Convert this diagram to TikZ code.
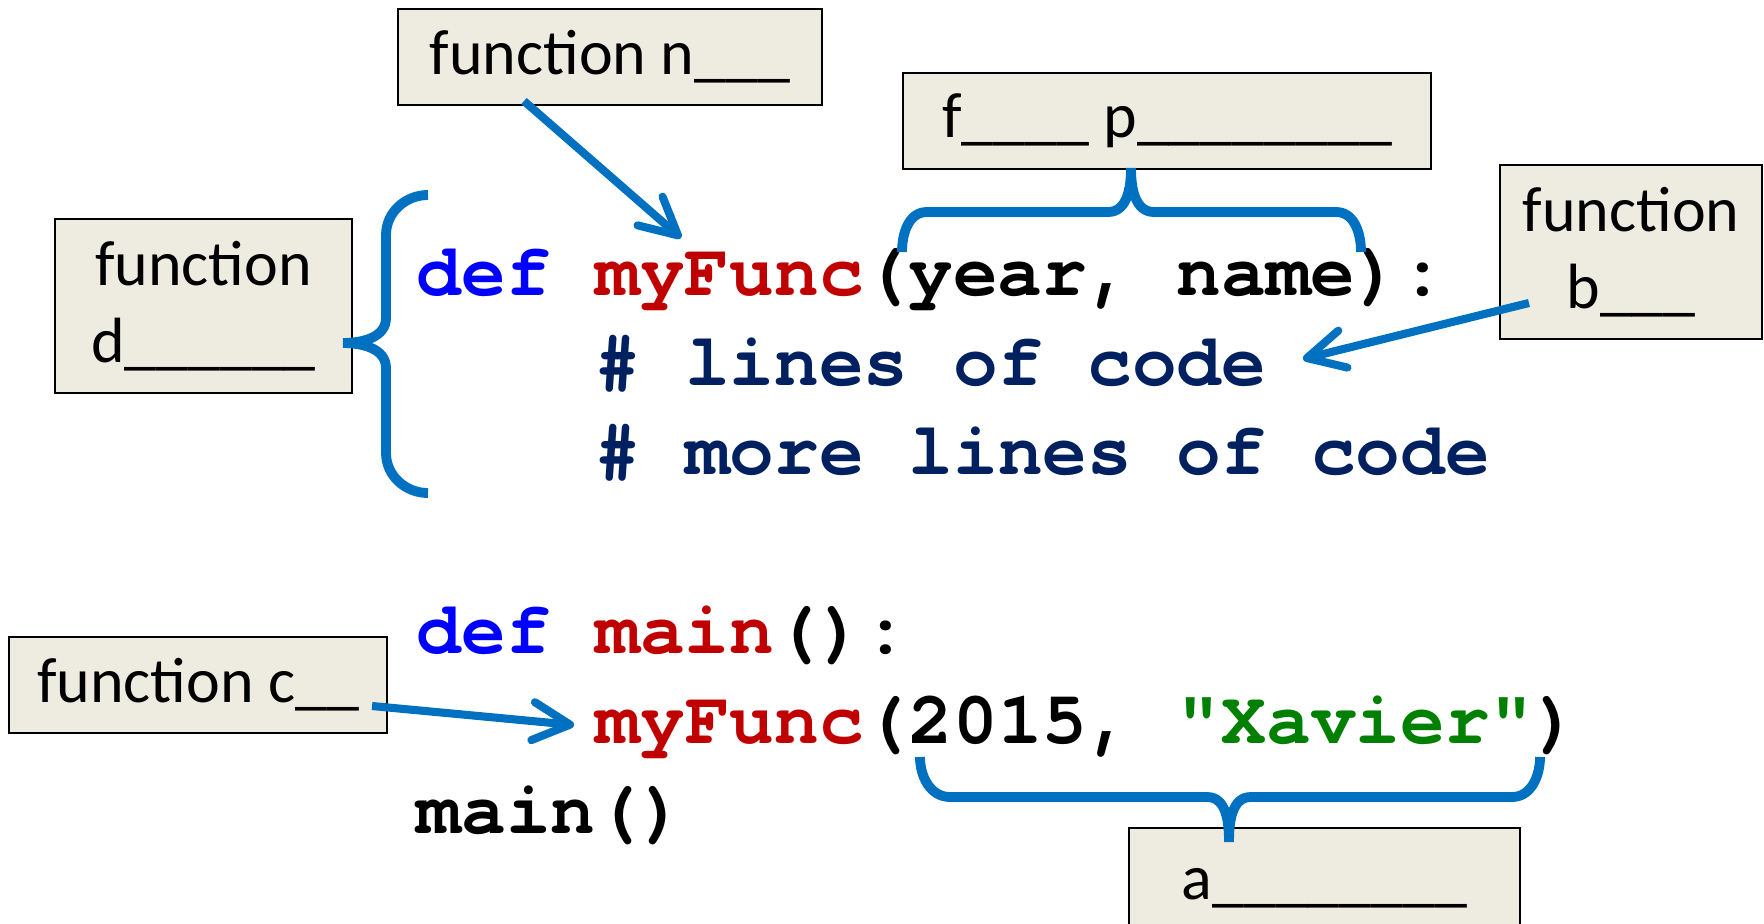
\documentclass[tikz,border=0pt]{standalone}
\usepackage{fontspec}
\setmainfont{Carlito}
\newfontfamily\codefont{TeX Gyre Cursor}
\usepackage{tikz}
\usetikzlibrary{arrows.meta, positioning}
\usepackage{xcolor}
\definecolor{calloutblue}{RGB}{0,112,192}
\definecolor{boxfill}{RGB}{238,236,225}
\definecolor{kwblue}{RGB}{0,0,255}
\definecolor{fnred}{RGB}{192,0,0}
\definecolor{cmtnavy}{RGB}{0,32,96}
\definecolor{strgreen}{RGB}{0,128,0}
\tikzset{%
	blank/.style={
		draw=black,
		fill=boxfill,
		line width=0.6pt,
		inner sep=0pt,
		align=center,
		font=\fontsize{18.2}{22}\selectfont
	},
	code/.style={
		anchor=base west,
		inner sep=0pt,
		font=\codefont\bfseries\fontsize{21.2}{25}\selectfont
	},
	pointer/.style={
		draw=calloutblue,
		line width=2.3pt,
		-{Straight Barb[length=3.7mm,width=3.8mm,round]}
	},
	bracket/.style={
		draw=calloutblue,
		line width=2.8pt
	},
}

\begin{document}
\begin{tikzpicture}
			\useasboundingbox (0,0) rectangle (17.64,9.23);
			\clip (0,0) rectangle (17.64,9.23);
			% Draw the code lines
			\node[code] (def1) at (4.16,6.28) {\textcolor{kwblue}{def} \textcolor{fnred}{myFunc}(year, name):};
			\node[code] (cmt1) at (5.95,5.38) {\textcolor{cmtnavy}{\# lines of code}};
			\node[code] (cmt2) at (5.95,4.49) {\textcolor{cmtnavy}{\# more lines of code}};
			\node[code] (def2) at (4.16,2.70) {\textcolor{kwblue}{def} \textcolor{fnred}{main}():};
			\node[code] (call) at (5.95,1.80) {\textcolor{fnred}{myFunc}(2015, \textcolor{strgreen}{"Xavier"})};
			\node[code] (run) at (4.16,0.90) {main()};
			
			% Draw the blanks
			\node[blank, minimum width=4.24cm, minimum height=0.96cm] (boxn) at (6.10,8.66) {function n\_\_\_};
			\node[blank, minimum width=5.28cm, minimum height=0.96cm] (boxp) at (11.67,8.02) {f\_\_\_\_ p\_\_\_\_\_\_\_\_};
			\node[blank, minimum width=2.62cm, minimum height=1.74cm] (boxb) at (16.31,6.71) {function\\b\_\_\_};
			\node[blank, minimum width=2.97cm, minimum height=1.74cm] (boxd) at (2.035,6.17) {function\\d\_\_\_\_\_\_};
			\node[blank, minimum width=3.78cm, minimum height=0.96cm] (boxc) at (1.98,2.38) {function c\_\_};
			\node[blank, minimum width=3.91cm, minimum height=1.20cm] (boxa) at (13.245,0.35) {a\_\_\_\_\_\_\_\_};
			
			% Draw the braces
			\draw[bracket] (4.28,7.28) to[out=180,in=90] (3.86,6.88) -- (3.86,6.05)
				to[out=-90,in=0] (3.43,5.80) to[out=0,in=90] (3.86,5.55) -- (3.86,4.70)
				to[out=-90,in=180] (4.28,4.30);
			\draw[bracket] (9.02,6.71) to[out=90,in=180] (9.27,7.11) -- (11.08,7.11)
				to[out=0,in=-90] (11.31,7.55) to[out=-90,in=180] (11.54,7.11) -- (13.36,7.11)
				to[out=0,in=90] (13.61,6.71);
			\draw[bracket] (9.20,1.66) to[out=-90,in=180] (9.50,1.26) -- (12.07,1.26)
				to[out=0,in=90] (12.29,0.81) to[out=90,in=180] (12.51,1.26) -- (15.12,1.26)
				to[out=0,in=-90] (15.40,1.66);
			
			% Draw the arrows
			\coordinate (ntip) at (6.81,6.85);
			\draw[pointer] ([xshift=-0.86cm,yshift=0.05cm]boxn.south) -- (ntip);
			\coordinate (btip) at (13.03,5.64);
			\draw[pointer] ([xshift=0.30cm,yshift=-0.51cm]boxb.west) -- (btip);
			\coordinate (ctip) at (5.74,1.98);
			\draw[pointer] ([xshift=-0.16cm,yshift=-0.21cm]boxc.east) -- (ctip);
			
		\end{tikzpicture}
\end{document}
